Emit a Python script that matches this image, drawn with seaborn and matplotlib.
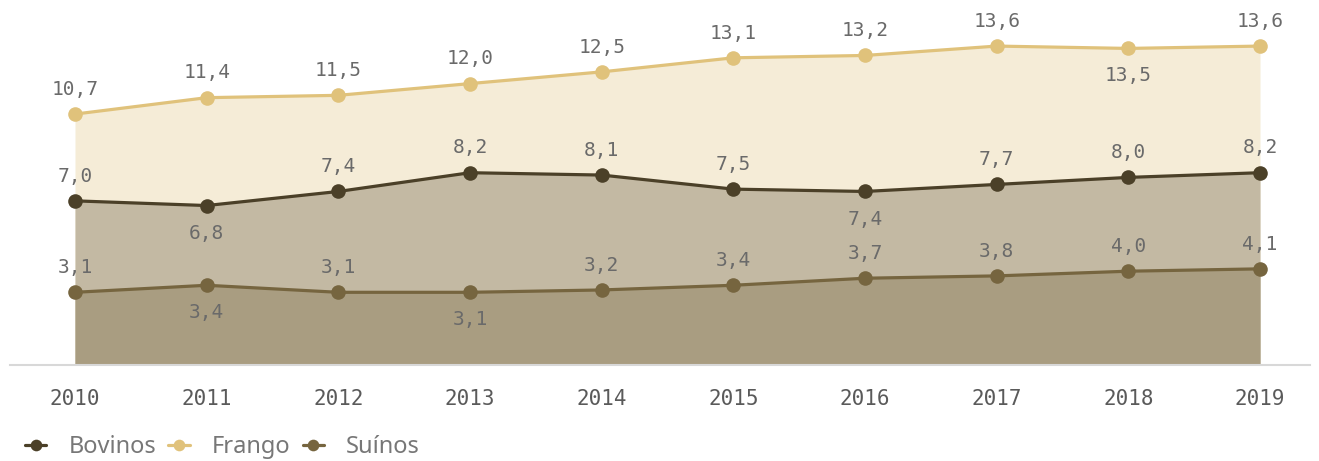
import matplotlib
matplotlib.use("Agg")
import matplotlib.pyplot as plt
import seaborn as sns
import pandas as pd

# dados (consumo per capita, kg)
anos = [2010, 2011, 2012, 2013, 2014, 2015, 2016, 2017, 2018, 2019]
frango = [10.7, 11.4, 11.5, 12.0, 12.5, 13.1, 13.2, 13.6, 13.5, 13.6]
bovinos = [7.0, 6.8, 7.4, 8.2, 8.1, 7.5, 7.4, 7.7, 8.0, 8.2]
suinos = [3.1, 3.4, 3.1, 3.1, 3.2, 3.4, 3.7, 3.8, 4.0, 4.1]

# rótulos que ficam abaixo do ponto
abaixo = {'Frango': [2018], 'Bovinos': [2011, 2016], 'Suínos': [2011, 2013]}

sns.set_style('white')
plt.rcParams['font.family'] = ['Noto Sans', 'DejaVu Sans']

df = pd.DataFrame({'ano': anos, 'Bovinos': bovinos, 'Frango': frango, 'Suínos': suinos})

cores_linha = {'Bovinos': '#4b4028', 'Frango': '#e0c27b', 'Suínos': '#76653f'}
cores_area = {'Frango': '#f5ecd7', 'Bovinos': '#c3b9a3', 'Suínos': '#a99d81'}

fig = plt.figure(figsize=(13.19, 4.61), dpi=100)
ax = fig.add_axes([10 / 1319, 96 / 461, 1300 / 1319, 365 / 461])

# áreas (da maior para a menor)
for serie in ['Frango', 'Bovinos', 'Suínos']:
    ax.fill_between(df['ano'], 0, df[serie], color=cores_area[serie], lw=0, zorder=1)

# linhas com marcadores
for serie in ['Bovinos', 'Frango', 'Suínos']:
    sns.lineplot(data=df, x='ano', y=serie, ax=ax, color=cores_linha[serie], lw=2.3,
                 marker='o', markersize=10.5, markeredgewidth=0, label=serie, zorder=3)

# rótulos de dados
for serie in ['Frango', 'Bovinos', 'Suínos']:
    for a, v in zip(df['ano'], df[serie]):
        if a in abaixo[serie]:
            dy, va = -13, 'top'
        else:
            dy, va = 11, 'bottom'
        ax.annotate(f'{v:.1f}'.replace('.', ','), (a, v), xytext=(0, dy),
                    textcoords='offset points', ha='center', va=va,
                    fontsize=14, color='#6a6a6a', family='DejaVu Sans Mono', zorder=4)

ax.set_xlim(2010 - 65 / 131.67, 2019 + 50 / 131.67)
ax.set_ylim(0, 365 / 23.45)
ax.set_xticks(anos)
ax.set_xticklabels([str(a) for a in anos], family='DejaVu Sans Mono', fontsize=15, color='#5a5a5a')
ax.set_yticks([])
ax.tick_params(axis='x', length=0, pad=17)
ax.set_xlabel('')
ax.set_ylabel('')
for lado in ['top', 'right', 'left']:
    ax.spines[lado].set_visible(False)
ax.spines['bottom'].set_color('#d8d8d8')
ax.spines['bottom'].set_linewidth(1.5)

handles, labels = ax.get_legend_handles_labels()
ax.get_legend().remove()
fig.legend(handles, labels, loc='center left', bbox_to_anchor=(0.003, 0.03), ncol=3,
           frameon=False, fontsize=17, labelcolor='#777777', handlelength=0.9,
           handletextpad=0.95, columnspacing=0.5, markerscale=0.8)

fig.savefig('out.png', dpi=100)
